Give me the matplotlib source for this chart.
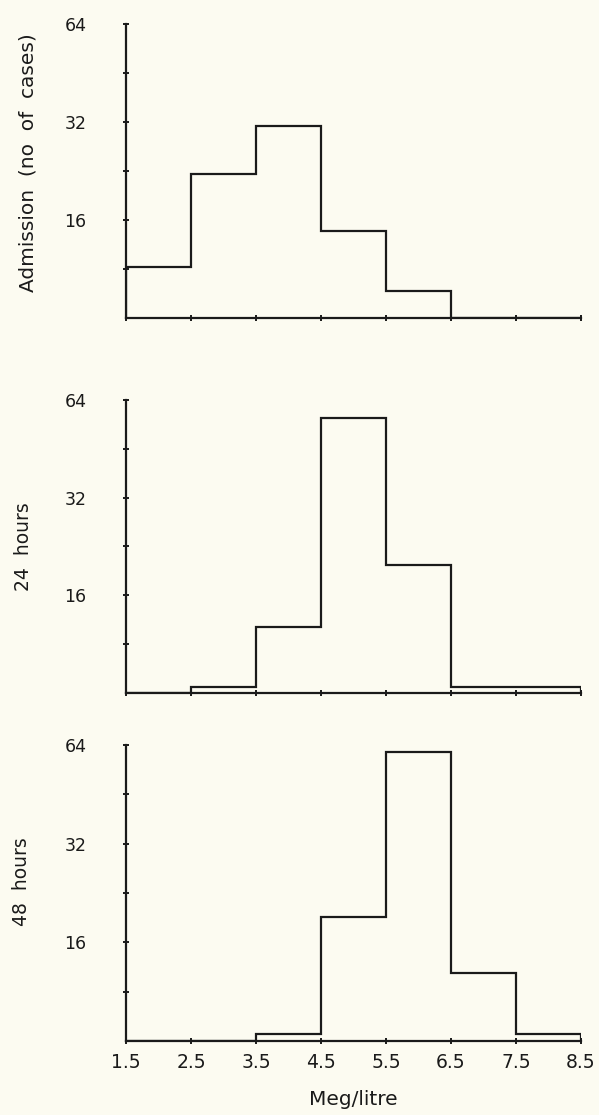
import numpy as np
import matplotlib
matplotlib.use("Agg")
import matplotlib.pyplot as plt

plt.rcParams['font.family'] = ['DejaVu Sans']

# Bin edges (Meq/litre)
edges = [1.5, 2.5, 3.5, 4.5, 5.5, 6.5, 7.5, 8.5]
x_tick_labels = ["1.5", "2.5", "3.5", "4.5", "5.5", "6.5", "7.5", "8.5"]

# Number of cases per bin (0 = on the baseline)
admission = [11.5, 22.2, 31.0, 14.8, 9.7, 0, 0]
hours_24 = [0, 8.35, 12.8, 56.4, 19.9, 8.35, 8.35]
hours_48 = [0, 0, 8.4, 19.1, 61.0, 12.9, 8.4]

panel_labels = ["Admission  (no  of  cases)", "24  hours", "48  hours"]
y_major = [16, 32, 64]
y_tick_values = [8 * 2 ** (k / 2) for k in range(1, 7)]
x_title = "Meg/litre"

bg = "#fcfbf1"
ink = "#1a1a1a"

W, H = 599, 1115
fig = plt.figure(figsize=(W / 100, H / 100), dpi=100, facecolor=bg)

# (top_px, bottom_px) of each panel
panels_px = [(24, 318), (400, 693), (745, 1041)]
left_px, right_px = 126, 581
label_pos = [(-0.215, 0.53), (-0.226, 0.50), (-0.229, 0.54)]
label_sizes = [14.5, 13.5, 13.5]

series = [admission, hours_24, hours_48]
for i, ((top, bot), vals, lab) in enumerate(zip(panels_px, series, panel_labels)):
    ax = fig.add_axes([left_px / W, 1 - bot / H, (right_px - left_px) / W, (bot - top) / H])
    ax.set_facecolor(bg)
    ax.set_yscale('log', base=2)
    ax.set_ylim(8, 64)
    ax.set_xlim(edges[0], edges[-1])
    v = np.maximum(np.array(vals, dtype=float), 8)
    ax.stairs(v, edges, baseline=8, color=ink, lw=1.6, zorder=3)

    for s in ['top', 'right']:
        ax.spines[s].set_visible(False)
    for s in ['left', 'bottom']:
        ax.spines[s].set_linewidth(1.6)
        ax.spines[s].set_color(ink)

    ax.yaxis.set_minor_locator(matplotlib.ticker.NullLocator())
    ax.set_yticks(y_tick_values,
                  [str(int(round(t))) if int(round(t)) in y_major else "" for t in y_tick_values])
    ax.set_xticks(edges)
    if i == 2:
        ax.set_xticklabels(x_tick_labels)
        ax.set_xlabel(x_title, fontsize=14.5, color=ink, labelpad=13)
    else:
        ax.set_xticklabels([])
    ax.tick_params(axis='y', direction='inout', length=5, width=1.4, colors=ink,
                   labelsize=12.5, pad=26)
    ax.tick_params(axis='x', direction='inout', length=5, width=1.4, colors=ink,
                   labelsize=13.5, pad=6)

    ax.set_ylabel(lab, fontsize=label_sizes[i], color=ink)
    ax.yaxis.label.set_va('center')
    ax.yaxis.set_label_coords(*label_pos[i])

fig.savefig("out.png", dpi=100, facecolor=bg)
